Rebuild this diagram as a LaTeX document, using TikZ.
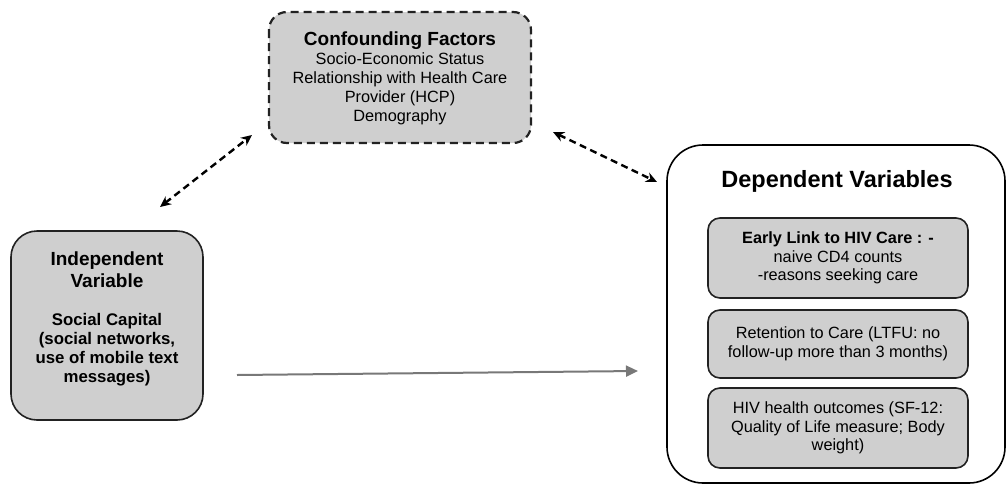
\documentclass[tikz,border=0pt]{standalone}
\usepackage{fontspec}
\setmainfont{Liberation Sans}
\usetikzlibrary{arrows.meta}
\definecolor{boxgray}{RGB}{207,207,207}
\definecolor{edgec}{RGB}{34,34,34}
\definecolor{arrgray}{RGB}{120,120,120}
\begin{document}
\begin{tikzpicture}[x=1pt,y=-1pt,
  graybox/.style={draw=edgec,fill=boxgray,line width=1.6pt,inner sep=0pt,align=center},
  dasharrow/.style={draw=black,line width=2.4pt,dash pattern=on 7pt off 4.5pt,{Stealth[length=11pt,width=10pt]}-{Stealth[length=11pt,width=10pt]}},
  solidarrow/.style={draw=arrgray,line width=2pt,-{Triangle[length=12pt,width=11pt]}},
  txt/.style={font=\fontsize{16.3}{18.7}\selectfont,align=center,inner sep=0pt}
]
\useasboundingbox (0,0) rectangle (1007,485);
% confounding
\node[graybox,draw=none,rounded corners=18pt,minimum width=262pt,minimum height=131pt] (conf) at (400,77.5) {};
\draw[edgec,line width=2.2pt,dash pattern=on 8pt off 5pt,rounded corners=18pt] (269,12) rectangle (531,143);
\node[txt] (conft) at (400,78) {{\bfseries\fontsize{19}{21}\selectfont Confounding Factors}\\[1pt]Socio-Economic Status\\Relationship with Health Care\\Provider (HCP)\\Demography};
% independent
\node[graybox,rounded corners=26pt,minimum width=192pt,minimum height=189pt] (indep) at (107,325.5) {};
\node[txt,font=\bfseries\fontsize{19}{22}\selectfont] (indt) at (107,270) {Independent\\Variable};
\node[txt,font=\bfseries\fontsize{16.8}{19}\selectfont] (indb) at (107,350) {Social Capital\\(social networks,\\use of mobile text\\messages)};
% dependent
\node[draw=black,line width=1.6pt,fill=white,rounded corners=36pt,minimum width=338pt,minimum height=338pt,inner sep=0pt] (dep) at (836,314) {};
\node[txt,font=\bfseries\fontsize{23.5}{26}\selectfont] (dept) at (837,181) {Dependent Variables};
\node[graybox,rounded corners=12pt,minimum width=260pt,minimum height=80pt,font=\fontsize{16.3}{18.7}\selectfont] (d1) at (838,258) {{\bfseries Early Link to HIV Care : -}\\naive CD4 counts\\-reasons seeking care};
\node[graybox,rounded corners=12pt,minimum width=260pt,minimum height=68pt,font=\fontsize{16.3}{18.7}\selectfont] (d2) at (838,344) {Retention to Care (LTFU: no\\follow-up more than 3 months)};
\node[graybox,rounded corners=12pt,minimum width=260pt,minimum height=80pt,font=\fontsize{16.3}{18.7}\selectfont] (d3) at (838,428) {HIV health outcomes (SF-12:\\Quality of Life measure; Body\\weight)};
% arrows
\coordinate (a1) at (160,207);
\coordinate (a2) at (252,135);
\coordinate (b1) at (553,132);
\coordinate (b2) at (657,182);
\coordinate (c1) at (237,375);
\coordinate (c2) at (638,371);
\draw[dasharrow] (a1) -- (a2);
\draw[dasharrow] (b1) -- (b2);
\draw[solidarrow] (c1) -- (c2);
\end{tikzpicture}
\end{document}
